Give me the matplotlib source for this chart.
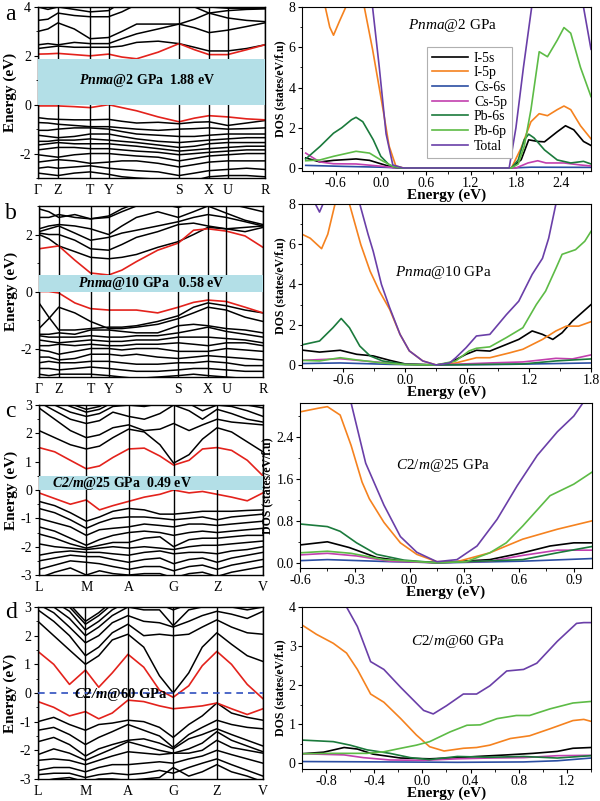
import matplotlib.pyplot as plt
import numpy as np
from matplotlib.ticker import MultipleLocator, AutoMinorLocator, FormatStrFormatter

plt.rcParams['font.family'] = ['Liberation Serif', 'DejaVu Serif']
plt.rcParams['mathtext.fontset'] = 'custom'
plt.rcParams['mathtext.it'] = 'Liberation Serif:italic'
plt.rcParams['mathtext.bf'] = 'Liberation Serif:italic:bold'
plt.rcParams['mathtext.rm'] = 'Liberation Serif'
plt.rcParams['axes.unicode_minus'] = False

# ---------------- band structure data ----------------
pnma_labels = ['Γ', 'Z', 'T', 'Y', 'S', 'X', 'U', 'R']
pnma_sym = [0, 0.088, 0.230, 0.311, 0.622, 0.754, 0.836, 1.0]
k_pnma = [0, 0.044, 0.088, 0.16, 0.23, 0.311, 0.37, 0.435, 0.53, 0.622, 0.69, 0.754, 0.836, 0.92, 1.0]

c2m_labels = ['L', 'M', 'A', 'G', 'Z', 'V']
c2m_sym = [0, 0.211, 0.40, 0.601, 0.795, 1.0]
k_c2m = [0, 0.07, 0.14, 0.211, 0.27, 0.33, 0.40, 0.47, 0.54, 0.601, 0.67, 0.73, 0.795, 0.86, 0.93, 1.0]

# panel a: Pnma @ 2 GPa
a_cbm = [2.07, 2.08, 2.1, 2.05, 2.0, 2.07, 1.95, 1.88, 2.15, 2.5, 2.25, 2.05, 2.05, 2.25, 2.45]
a_vbm = [-0.05, -0.05, -0.05, -0.08, -0.12, 0.0, -0.12, -0.25, -0.5, -0.7, -0.55, -0.45, -0.5, -0.58, -0.62]
a_bands = [
    [2.3, 2.35, 2.4, 2.35, 2.35, 2.35, 2.4, 2.55, 2.6, 2.5, 2.35, 2.2, 2.2, 2.3, 2.45],
    [2.45, 2.5, 2.45, 2.55, 2.5, 2.5, 2.7, 2.9, 3.1, 3.3, 3.15, 2.95, 3.05, 3.2, 3.35],
    [3.0, 3.1, 3.35, 3.1, 2.7, 2.75, 3.0, 3.3, 3.3, 3.3, 3.5, 3.75, 3.55, 3.45, 3.4],
    [3.45, 3.5, 3.75, 3.65, 3.6, 3.6, 3.8, 4.1, 4.3, 4.2, 4.0, 3.75, 3.85, 3.9, 3.92],
    [4.0, 3.9, 4.0, 3.9, 3.8, 3.85, 4.2, 4.5, 4.5, 4.4, 4.2, 4.0, 3.95, 3.95, 3.95],
    [-0.53, -0.58, -0.6, -0.62, -0.62, -0.6, -0.68, -0.75, -0.72, -0.78, -0.72, -0.7, -0.85, -0.75, -0.65],
    [-0.73, -0.75, -0.8, -0.85, -0.9, -0.9, -0.95, -1.0, -1.05, -1.0, -0.98, -0.95, -1.0, -0.98, -0.95],
    [-1.05, -1.05, -1.0, -0.95, -0.95, -1.0, -1.1, -1.2, -1.25, -1.3, -1.3, -1.25, -1.2, -1.2, -1.2],
    [-1.25, -1.3, -1.35, -1.3, -1.2, -1.2, -1.3, -1.4, -1.5, -1.55, -1.5, -1.45, -1.4, -1.35, -1.35],
    [-1.5, -1.5, -1.45, -1.45, -1.4, -1.45, -1.5, -1.55, -1.65, -1.75, -1.7, -1.6, -1.55, -1.55, -1.55],
    [-1.65, -1.6, -1.55, -1.6, -1.6, -1.6, -1.65, -1.7, -1.8, -1.9, -1.85, -1.8, -1.75, -1.7, -1.7],
    [-1.85, -1.8, -1.75, -1.75, -1.8, -1.8, -1.85, -1.9, -1.95, -2.05, -2.0, -1.95, -1.9, -1.85, -1.85],
    [-2.05, -2.1, -2.15, -2.05, -2.0, -2.0, -2.05, -2.1, -2.15, -2.3, -2.2, -2.1, -2.05, -2.0, -2.0],
    [-2.35, -2.3, -2.25, -2.3, -2.4, -2.35, -2.3, -2.3, -2.4, -2.55, -2.45, -2.35, -2.3, -2.3, -2.3],
    [-2.6, -2.55, -2.6, -2.55, -2.5, -2.6, -2.65, -2.7, -2.75, -2.9, -2.8, -2.7, -2.65, -2.6, -2.65],
    [-2.8, -2.85, -2.9, -2.8, -2.75, -2.85, -2.95, -3.0, -3.05, -3.2, -3.1, -2.95, -2.9, -2.9, -2.95],
]

# panel b: Pnma @ 10 GPa
b_cbm = [1.5, 1.55, 1.6, 1.1, 0.65, 0.58, 0.75, 1.05, 1.45, 1.7, 2.15, 2.2, 2.12, 1.95, 1.55]
b_vbm = [0.0, 0.0, -0.05, -0.4, -0.6, -0.65, -0.65, -0.65, -0.75, -0.55, -0.38, -0.3, -0.35, -0.55, -0.75]
b_bands = [
    [2.0, 1.85, 1.6, 1.4, 1.2, 1.15, 1.2, 1.3, 1.55, 1.75, 2.0, 2.25, 2.2, 2.25, 2.3],
    [2.05, 2.0, 2.0, 1.8, 1.5, 1.45, 1.65, 1.9, 2.1, 2.35, 2.4, 2.3, 2.2, 2.1, 2.25],
    [2.1, 2.2, 2.3, 2.05, 1.8, 1.9, 2.05, 2.15, 2.3, 2.45, 2.6, 2.7, 2.6, 2.45, 2.3],
    [2.2, 2.3, 2.35, 2.3, 2.2, 2.0, 2.3, 2.6, 2.8, 2.6, 2.8, 3.0, 2.75, 2.5, 2.35],
    [2.6, 2.6, 2.7, 2.6, 2.55, 2.6, 2.8, 3.0, 3.1, 2.95, 3.1, 3.2, 3.1, 2.95, 2.8],
    [2.9, 2.8, 2.6, 2.7, 2.55, 2.65, 2.9, 3.1, 3.2, 3.1, 3.2, 3.3, 3.2, 3.1, 3.0],
    [-0.4, -0.9, -1.35, -1.35, -1.3, -1.25, -1.25, -1.2, -1.05, -0.85, -0.55, -0.4, -0.5, -0.65, -0.75],
    [-1.3, -0.95, -0.55, -0.75, -1.05, -1.3, -1.3, -1.25, -1.15, -0.95, -0.75, -0.55, -0.65, -0.9, -1.05],
    [-1.5, -1.5, -1.45, -1.5, -1.35, -1.35, -1.4, -1.45, -1.45, -1.2, -1.15, -1.2, -1.3, -1.35, -1.45],
    [-1.55, -1.6, -1.6, -1.6, -1.55, -1.6, -1.6, -1.55, -1.55, -1.45, -1.35, -1.25, -1.4, -1.5, -1.6],
    [-1.7, -1.75, -1.8, -1.75, -1.7, -1.75, -1.75, -1.7, -1.7, -1.6, -1.6, -1.6, -1.65, -1.7, -1.8],
    [-1.9, -1.9, -1.85, -1.9, -1.85, -1.9, -1.9, -1.85, -1.85, -1.8, -1.85, -1.9, -1.8, -1.8, -1.9],
    [-2.05, -2.1, -2.2, -2.1, -2.0, -2.0, -2.05, -2.0, -2.0, -2.1, -2.1, -2.1, -2.0, -2.05, -2.1],
    [-2.3, -2.3, -2.4, -2.35, -2.2, -2.2, -2.25, -2.2, -2.3, -2.35, -2.3, -2.25, -2.3, -2.35, -2.4],
    [-2.5, -2.45, -2.5, -2.5, -2.45, -2.45, -2.5, -2.55, -2.55, -2.5, -2.5, -2.45, -2.5, -2.6, -2.6],
    [-2.7, -2.7, -2.75, -2.7, -2.65, -2.7, -2.75, -2.8, -2.8, -2.75, -2.7, -2.7, -2.75, -2.8, -2.8],
    [-2.9, -2.95, -2.9, -2.9, -2.9, -2.95, -3.0, -3.05, -3.0, -2.95, -2.9, -2.95, -3.0, -3.05, -3.05],
]

# panel c: C2/m @ 25 GPa
c_cbm = [1.5, 1.35, 1.05, 0.75, 0.85, 1.15, 1.45, 1.48, 1.2, 0.88, 1.05, 1.45, 1.5, 1.4, 1.05, 0.5]
c_vbm = [-0.1, -0.3, -0.5, -0.35, -0.7, -0.55, -0.4, -0.25, -0.15, 0.0, -0.1, -0.05, -0.15, -0.25, -0.38, -0.1]
c_bands = [
    [2.1, 1.85, 1.6, 1.45, 1.55, 1.85, 2.15, 2.05, 1.6, 0.95, 1.25, 1.8, 2.2, 2.05, 1.7, 1.35],
    [2.9, 2.5, 2.1, 1.85, 1.95, 2.2, 2.3, 2.1, 2.15, 2.35, 2.1, 2.3, 2.5, 2.4, 2.35, 2.3],
    [3.1, 2.8, 2.5, 2.35, 2.45, 2.75, 2.6, 2.5, 2.7, 3.0, 2.8, 2.5, 2.85, 2.7, 2.5, 2.4],
    [3.3, 3.0, 2.75, 2.6, 2.7, 2.95, 3.0, 2.95, 3.05, 3.1, 3.05, 2.8, 3.0, 2.95, 2.8, 2.6],
    [3.4, 3.2, 2.95, 2.75, 2.85, 3.1, 3.2, 3.1, 3.2, 3.3, 3.2, 3.0, 3.2, 3.1, 3.0, 2.9],
    [3.5, 3.3, 3.05, 2.85, 2.95, 3.2, 3.3, 3.2, 3.3, 3.4, 3.3, 3.1, 3.3, 3.2, 3.1, 3.1],
    [-0.4, -0.55, -0.8, -1.1, -0.95, -0.75, -0.65, -0.7, -0.85, -0.85, -0.8, -0.75, -0.75, -0.75, -0.72, -0.7],
    [-0.65, -0.8, -1.05, -1.35, -1.15, -1.0, -0.95, -0.95, -1.0, -1.05, -1.0, -0.95, -1.05, -0.95, -0.9, -0.85],
    [-1.0, -1.15, -1.3, -1.6, -1.4, -1.35, -1.3, -1.2, -1.25, -1.3, -1.2, -1.2, -1.25, -1.2, -1.15, -1.1],
    [-1.3, -1.45, -1.7, -1.95, -1.75, -1.6, -1.5, -1.45, -1.5, -1.6, -1.5, -1.45, -1.5, -1.45, -1.4, -1.35],
    [-1.55, -1.7, -1.9, -2.05, -1.95, -1.85, -1.85, -1.7, -1.65, -2.0, -1.75, -1.7, -1.7, -1.65, -1.6, -1.6],
    [-1.9, -2.0, -2.05, -2.1, -2.05, -2.0, -2.05, -2.0, -2.05, -2.1, -2.0, -1.95, -1.95, -1.9, -1.85, -1.8],
    [-2.3, -2.2, -2.15, -2.2, -2.2, -2.25, -2.3, -2.2, -2.15, -2.25, -2.2, -2.2, -2.25, -2.15, -2.1, -2.0],
    [-2.5, -2.4, -2.3, -2.35, -2.35, -2.45, -2.55, -2.45, -2.4, -2.6, -2.45, -2.4, -2.55, -2.4, -2.3, -2.2],
    [-2.8, -2.65, -2.5, -2.55, -2.6, -2.7, -2.8, -2.7, -2.7, -2.85, -2.7, -2.65, -2.8, -2.65, -2.55, -2.45],
    [-3.1, -2.9, -2.75, -3.0, -2.85, -2.95, -3.0, -2.95, -2.95, -3.1, -2.95, -2.9, -3.05, -2.9, -2.8, -2.7],
]

# panel d: C2/m @ 60 GPa
d_cbm = [1.45, 1.0, 0.3, 0.8, 0.2, 0.7, 1.35, 0.9, 0.1, -0.15, 0.25, 0.95, 1.45, 1.0, 0.3, -0.2]
d_vbm = [-0.3, -0.5, -0.8, -0.65, -0.9, -0.7, -0.25, -0.3, -0.45, -0.55, -0.5, -0.45, -0.35, -0.55, -0.75, -0.55]
d_bands = [
    [2.5, 2.0, 1.5, 1.0, 1.3, 1.85, 2.05, 1.6, 0.6, 0.0, 0.7, 1.6, 2.1, 1.7, 1.3, 1.1],
    [2.9, 2.5, 2.0, 1.3, 1.6, 2.1, 2.4, 2.0, 2.05, 2.0, 2.05, 2.3, 2.55, 2.3, 2.1, 2.05],
    [3.1, 2.8, 2.3, 1.75, 2.0, 2.45, 2.7, 2.5, 2.45, 2.3, 2.5, 2.7, 2.85, 2.75, 2.6, 2.85],
    [3.3, 3.0, 2.6, 2.0, 2.3, 2.7, 3.0, 2.9, 2.9, 2.35, 2.9, 3.0, 3.1, 3.0, 2.9, 3.0],
    [3.4, 3.2, 2.85, 2.2, 2.5, 2.9, 3.2, 3.1, 3.1, 2.9, 3.1, 3.2, 3.3, 3.2, 3.1, 3.2],
    [3.5, 3.3, 3.0, 2.4, 2.7, 3.1, 3.3, 3.2, 3.2, 3.2, 3.2, 3.3, 3.4, 3.3, 3.2, 3.3],
    [3.6, 3.4, 3.1, 2.5, 2.8, 3.2, 3.4, 3.3, 3.3, 3.3, 3.3, 3.4, 3.5, 3.4, 3.3, 3.4],
    [-1.0, -0.85, -1.1, -1.3, -1.1, -1.05, -0.95, -1.0, -1.2, -1.55, -1.1, -0.8, -0.35, -0.7, -0.85, -0.95],
    [-1.3, -1.2, -1.45, -1.8, -1.55, -1.35, -1.1, -1.3, -1.5, -1.9, -1.45, -1.2, -0.95, -1.1, -1.2, -1.25],
    [-1.7, -1.55, -1.8, -2.2, -1.95, -1.8, -1.65, -1.6, -1.75, -1.95, -1.6, -1.45, -1.25, -1.45, -1.65, -1.85],
    [-2.15, -1.95, -2.1, -2.35, -2.15, -1.95, -1.7, -1.85, -2.0, -2.1, -1.95, -1.75, -1.35, -1.65, -1.85, -2.05],
    [-2.35, -2.3, -2.35, -2.5, -2.35, -2.2, -2.05, -2.1, -2.15, -2.1, -2.1, -2.0, -1.65, -1.9, -2.0, -2.1],
    [-2.7, -2.6, -2.6, -2.75, -2.6, -2.5, -2.5, -2.45, -2.4, -2.45, -2.3, -2.2, -2.0, -2.15, -2.3, -2.45],
    [-2.85, -2.8, -2.8, -2.95, -2.85, -2.8, -2.85, -2.8, -2.7, -2.8, -2.6, -2.45, -2.3, -2.5, -2.7, -2.9],
    [-3.1, -3.0, -2.95, -3.1, -3.0, -3.0, -3.05, -3.0, -2.95, -2.6, -2.9, -2.75, -2.5, -2.75, -2.9, -3.1],
]

# ---------------- DOS data: (energy, states/eV/f.u) ----------------
orbitals = ['I-5s', 'I-5p', 'Cs-6s', 'Cs-5p', 'Pb-6s', 'Pb-6p', 'Total']
orb_colors = ['#000000', '#f5821f', '#2b4ea2', '#c23fae', '#1b7a3c', '#5dbb46', '#6a3fa8']

a_i5s = [(-1.0, 0.5), (-0.81, 0.3), (-0.63, 0.38), (-0.33, 0.45), (-0.15, 0.38), (0.0, 0.21), (0.16, 0.03), (0.3, 0.0),
         (1.74, 0.0), (1.87, 0.41), (1.97, 1.4), (2.09, 1.32), (2.18, 1.3), (2.35, 1.8), (2.46, 2.1), (2.57, 1.9), (2.7, 1.32), (2.8, 1.12)]
a_i5p = [(-1.0, 12), (-0.81, 9.5), (-0.74, 8.0), (-0.68, 7.0), (-0.63, 6.6), (-0.55, 7.3), (-0.43, 8.3), (-0.3, 9.5), (-0.22, 8.0),
         (-0.11, 5.9), (0.03, 2.9), (0.11, 1.1), (0.2, 0.1), (0.3, 0.0), (1.74, 0.0), (1.87, 1.0), (2.0, 2.3), (2.11, 2.7), (2.22, 2.6),
         (2.35, 2.9), (2.44, 3.08), (2.53, 2.9), (2.66, 2.1), (2.8, 1.45)]
a_cs6s = [(-1.0, 0.13), (-0.5, 0.08), (0.0, 0.04), (0.3, 0.0), (1.74, 0.0), (2.0, 0.04), (2.8, 0.03)]
a_cs5p = [(-1.0, 0.74), (-0.9, 0.5), (-0.81, 0.3), (-0.63, 0.21), (-0.33, 0.2), (0.03, 0.08), (0.16, 0.02), (0.3, 0.0),
          (1.8, 0.0), (1.96, 0.25), (2.09, 0.36), (2.2, 0.25), (2.44, 0.25), (2.66, 0.15), (2.8, 0.1)]
a_pb6s = [(-1.0, 0.45), (-0.81, 1.07), (-0.63, 1.73), (-0.52, 2.0), (-0.39, 2.4), (-0.33, 2.52), (-0.24, 2.3), (-0.1, 1.4),
          (0.0, 0.58), (0.11, 0.16), (0.2, 0.03), (0.3, 0.0), (1.74, 0.0), (1.83, 0.4), (1.91, 1.4), (1.97, 1.68), (2.04, 1.5),
          (2.18, 0.9), (2.35, 0.4), (2.53, 0.25), (2.7, 0.33), (2.8, 0.2)]
a_pb6p = [(-1.0, 0.36), (-0.81, 0.4), (-0.63, 0.58), (-0.33, 0.83), (-0.15, 0.74), (0.0, 0.4), (0.16, 0.08), (0.3, 0.0),
          (1.74, 0.0), (1.83, 0.2), (1.91, 1.07), (2.0, 2.9), (2.11, 5.78), (2.22, 5.53), (2.35, 6.35), (2.44, 6.98),
          (2.53, 6.7), (2.66, 5.0), (2.8, 3.55)]
a_total = [(-1.0, 14), (-0.3, 14), (-0.11, 8.0), (-0.02, 5.0), (0.07, 1.7), (0.16, 0.15), (0.3, 0.0), (1.71, 0.0), (1.8, 2.0),
           (1.9, 5.0), (2.01, 8.0), (2.2, 14), (2.6, 14), (2.7, 8.0), (2.8, 5.9)]

b_i5s = [(-1.0, 0.74), (-0.83, 0.64), (-0.63, 0.73), (-0.47, 0.53), (-0.31, 0.45), (-0.15, 0.23), (0.0, 0.05), (0.3, 0.0),
         (0.43, 0.1), (0.59, 0.53), (0.69, 0.73), (0.82, 0.69), (0.98, 1.02), (1.1, 1.27), (1.23, 1.69), (1.33, 1.52),
         (1.43, 1.27), (1.52, 1.6), (1.62, 2.18), (1.8, 3.0)]
b_i5p = [(-1.0, 6.5), (-0.92, 6.3), (-0.81, 5.78), (-0.75, 6.5), (-0.68, 8.0), (-0.6, 10), (-0.54, 8.0), (-0.43, 5.98),
         (-0.34, 4.66), (-0.25, 3.67), (-0.15, 2.76), (-0.05, 1.52), (0.04, 0.7), (0.17, 0.2), (0.3, 0.0), (0.49, 0.1),
         (0.69, 0.36), (0.82, 0.36), (1.01, 0.6), (1.14, 0.78), (1.33, 1.27), (1.46, 1.69), (1.56, 1.93), (1.68, 1.93), (1.8, 2.15)]
b_cs6s = [(-1.0, 0.07), (-0.63, 0.1), (-0.15, 0.03), (0.3, 0.0), (1.0, 0.03), (1.8, 0.1)]
b_cs5p = [(-1.0, 0.23), (-0.63, 0.31), (-0.31, 0.16), (0.0, 0.03), (0.3, 0.0), (0.82, 0.1), (1.14, 0.15), (1.46, 0.33),
          (1.62, 0.3), (1.8, 0.5)]
b_pb6s = [(-1.0, 1.0), (-0.83, 1.19), (-0.7, 1.85), (-0.62, 2.31), (-0.54, 1.85), (-0.44, 0.94), (-0.34, 0.45),
          (-0.22, 0.2), (0.0, 0.03), (0.3, 0.0), (1.14, 0.05), (1.46, 0.2), (1.8, 0.3)]
b_pb6p = [(-1.0, 0.23), (-0.83, 0.2), (-0.63, 0.36), (-0.47, 0.25), (-0.22, 0.1), (0.0, 0.02), (0.3, 0.0), (0.49, 0.2),
          (0.62, 0.7), (0.69, 0.83), (0.82, 0.9), (0.98, 1.36), (1.14, 1.85), (1.27, 3.0), (1.36, 3.67), (1.46, 4.8),
          (1.52, 5.5), (1.65, 5.73), (1.74, 6.15), (1.8, 6.64)]
b_total = [(-1.0, 10), (-0.92, 8.5), (-0.83, 7.6), (-0.78, 8.2), (-0.7, 10), (-0.5, 10), (-0.44, 8.0), (-0.36, 6.5),
           (-0.31, 5.65), (-0.23, 4.0), (-0.15, 2.84), (-0.05, 1.52), (0.04, 0.7), (0.17, 0.2), (0.3, 0.0), (0.43, 0.1),
           (0.49, 0.36), (0.59, 0.86), (0.69, 1.44), (0.82, 1.52), (0.98, 2.5), (1.1, 3.17), (1.23, 4.5), (1.33, 5.3),
           (1.39, 6.3), (1.46, 8.0), (1.6, 11)]

c_i5s = [(-0.6, 0.34), (-0.45, 0.4), (-0.33, 0.29), (-0.18, 0.1), (-0.03, 0.03), (0.15, 0.0), (0.44, 0.06), (0.62, 0.19),
         (0.77, 0.32), (0.9, 0.38), (1.0, 0.38)]
c_i5p = [(-0.6, 2.88), (-0.5, 2.95), (-0.45, 2.98), (-0.38, 2.82), (-0.32, 2.24), (-0.26, 1.54), (-0.22, 1.22),
         (-0.14, 0.77), (-0.05, 0.38), (0.04, 0.16), (0.15, 0.02), (0.26, 0.02), (0.44, 0.19), (0.62, 0.45), (0.81, 0.64), (1.0, 0.8)]
c_cs6s = [(-0.6, 0.04), (-0.45, 0.06), (-0.1, 0.02), (0.2, 0.0), (0.62, 0.03), (1.0, 0.08)]
c_cs5p = [(-0.6, 0.15), (-0.45, 0.18), (-0.29, 0.13), (-0.11, 0.03), (0.15, 0.0), (0.44, 0.03), (0.62, 0.14), (0.81, 0.24), (1.0, 0.24)]
c_pb6s = [(-0.6, 0.74), (-0.45, 0.69), (-0.38, 0.6), (-0.29, 0.38), (-0.18, 0.16), (-0.03, 0.05), (0.15, 0.0), (0.62, 0.06),
          (0.81, 0.19), (1.0, 0.31)]
c_pb6p = [(-0.6, 0.19), (-0.45, 0.22), (-0.32, 0.18), (-0.14, 0.06), (0.15, 0.0), (0.31, 0.02), (0.44, 0.19), (0.53, 0.38),
          (0.62, 0.7), (0.77, 1.28), (0.9, 1.5), (1.0, 1.73)]
c_total = [(-0.35, 3.5), (-0.32, 3.05), (-0.24, 1.9), (-0.14, 1.1), (-0.05, 0.5), (0.04, 0.2), (0.15, 0.02), (0.26, 0.06),
           (0.37, 0.32), (0.48, 0.83), (0.59, 1.47), (0.7, 2.05), (0.81, 2.5), (0.9, 2.8), (0.95, 3.05), (1.0, 3.3)]

d_i5s = [(-1.0, 0.24), (-0.82, 0.28), (-0.65, 0.4), (-0.54, 0.36), (-0.41, 0.23), (-0.18, 0.13), (0.06, 0.11), (0.29, 0.14),
         (0.45, 0.17), (0.7, 0.21), (0.92, 0.25), (1.12, 0.3), (1.25, 0.38), (1.4, 0.4)]
d_i5p = [(-1.0, 3.54), (-0.88, 3.3), (-0.74, 3.07), (-0.63, 2.82), (-0.54, 2.4), (-0.43, 1.77), (-0.32, 1.56), (-0.18, 1.14),
         (-0.05, 0.72), (0.06, 0.42), (0.18, 0.31), (0.34, 0.38), (0.45, 0.4), (0.56, 0.46), (0.73, 0.63), (0.89, 0.7),
         (1.06, 0.88), (1.25, 1.09), (1.34, 1.12), (1.4, 1.07)]
d_cs6s = [(-1.0, 0.04), (-0.27, 0.03), (0.29, 0.02), (0.84, 0.03), (1.12, 0.06), (1.4, 0.13)]
d_cs5p = [(-1.0, 0.24), (-0.65, 0.21), (-0.49, 0.14), (-0.27, 0.08), (0.01, 0.07), (0.29, 0.11), (0.56, 0.13), (0.84, 0.14),
          (1.12, 0.19), (1.4, 0.2)]
d_pb6s = [(-1.0, 0.59), (-0.74, 0.55), (-0.6, 0.46), (-0.46, 0.34), (-0.27, 0.25), (-0.1, 0.14), (0.06, 0.09), (0.29, 0.17),
          (0.56, 0.15), (0.84, 0.17), (1.12, 0.13), (1.4, 0.19)]
d_pb6p = [(-1.0, 0.24), (-0.74, 0.25), (-0.46, 0.25), (-0.32, 0.29), (-0.18, 0.38), (-0.05, 0.46), (0.06, 0.55), (0.23, 0.8),
          (0.37, 0.97), (0.48, 0.98), (0.62, 1.14), (0.78, 1.22), (0.89, 1.22), (1.06, 1.39), (1.25, 1.54), (1.4, 1.58)]
d_total = [(-0.7, 4.6), (-0.63, 4.0), (-0.54, 3.5), (-0.43, 2.6), (-0.32, 2.4), (-0.18, 1.94), (0.01, 1.35), (0.09, 1.26),
           (0.2, 1.47), (0.34, 1.77), (0.45, 1.77), (0.56, 1.98), (0.7, 2.36), (0.84, 2.4), (0.95, 2.56), (1.12, 3.12),
           (1.28, 3.58), (1.34, 3.6), (1.4, 3.6)]

RED = '#e3221c'
GAP = '#b3dfe7'

fig = plt.figure(figsize=(6.0, 8.01), dpi=100)


def band_panel(rect, k, bands, cbm, vbm, sym, labels, ylim, major, minor):
    ax = fig.add_axes(rect)
    for b in bands:
        ax.plot(k, b, color='k', lw=1.1)
    ax.plot(k, cbm, color=RED, lw=1.2)
    ax.plot(k, vbm, color=RED, lw=1.2)
    for p in sym:
        ax.axvline(p, color='k', lw=1.0)
    ax.set_xlim(0, 1)
    ax.set_ylim(*ylim)
    ax.set_xticks(sym)
    ax.set_xticklabels(labels, fontsize=10)
    ax.tick_params(axis='x', length=0, pad=4)
    ax.yaxis.set_major_locator(MultipleLocator(major))
    ax.yaxis.set_minor_locator(MultipleLocator(minor))
    ax.tick_params(axis='y', which='major', length=3, labelsize=10, direction='out', pad=2)
    ax.tick_params(axis='y', which='minor', length=1.8, direction='out')
    ax.set_ylabel('Energy (eV)', fontsize=11, fontweight='bold', labelpad=2)
    for s in ax.spines.values():
        s.set_linewidth(1.0)
    return ax


def dos_panel(rect, curves, xlim, ylim, xstep, ystep, yfmt, title, tx, ty):
    ax = fig.add_axes(rect)
    for name, col, data in zip(orbitals, orb_colors, curves):
        e = [p[0] for p in data]
        v = [p[1] for p in data]
        ax.plot(e, v, color=col, lw=1.2, label=name)
    ax.set_xlim(*xlim)
    ax.set_ylim(*ylim)
    ax.xaxis.set_major_locator(MultipleLocator(xstep))
    ax.xaxis.set_minor_locator(AutoMinorLocator(2))
    ax.yaxis.set_major_locator(MultipleLocator(ystep))
    ax.yaxis.set_minor_locator(AutoMinorLocator(2))
    ax.xaxis.set_major_formatter(FormatStrFormatter('%.1f'))
    ax.yaxis.set_major_formatter(FormatStrFormatter(yfmt))
    ax.tick_params(which='major', length=3, labelsize=10, direction='out', pad=1.5)
    ax.tick_params(which='minor', length=1.8, direction='out')
    ax.set_xlabel('Energy (eV)', fontsize=11, fontweight='bold', labelpad=-1)
    ax.set_ylabel('DOS (states/eV/f.u)', fontsize=8.5, fontweight='bold', labelpad=2)
    ax.text(tx, ty, title, transform=ax.transAxes, fontsize=11, ha='center', va='center')
    return ax


# ---- band panels ----
axa = band_panel([0.0633, 0.7778, 0.378, 0.2135], k_pnma, a_bands, a_cbm, a_vbm, pnma_sym, pnma_labels, (-3, 4), 2, 1)
axa.axhspan(0, 1.88, color=GAP, zorder=3, lw=0)
axa.text(0.48, 1.0, r'$\mathbf{Pnma}$@2 GPa  1.88 eV', fontsize=10, fontweight='bold', ha='center', va='center', zorder=4)

axb = band_panel([0.065, 0.5293, 0.3733, 0.2135], k_pnma, b_bands, b_cbm, b_vbm, pnma_sym, pnma_labels, (-3, 3), 2, 1)
axb.axhspan(0, 0.58, color=GAP, zorder=3, lw=0)
axb.text(0.5, 0.29, r'$\mathbf{Pnma}$@10 GPa   0.58 eV', fontsize=10, fontweight='bold', ha='center', va='center', zorder=4)

axc = band_panel([0.065, 0.2821, 0.3733, 0.2122], k_c2m, c_bands, c_cbm, c_vbm, c2m_sym, c2m_labels, (-3, 3), 1, 0.5)
axc.axhspan(0, 0.49, color=GAP, zorder=3, lw=0)
axc.text(0.37, 0.245, r'$\mathbf{C2/m}$@25 GPa  0.49 eV', fontsize=10, fontweight='bold', ha='center', va='center', zorder=4)

axd = band_panel([0.0633, 0.0275, 0.375, 0.2147], k_c2m, d_bands, d_cbm, d_vbm, c2m_sym, c2m_labels, (-3, 3), 1, 0.5)
axd.axhline(0, color='#2f4fbf', lw=1.2, ls=(0, (4, 3)), zorder=3)
axd.text(0.37, -0.05, r'$\mathbf{C2/m}$@60 GPa', fontsize=10.5, fontweight='bold', ha='center', va='center', zorder=4)

# ---- DOS panels ----
axA = dos_panel([0.5033, 0.7865, 0.4817, 0.2047], [a_i5s, a_i5p, a_cs6s, a_cs5p, a_pb6s, a_pb6p, a_total],
                (-1.05, 2.8), (-0.15, 8), 0.6, 2, '%d', r'$Pnma$@2 GPa', 0.52, 0.89)
leg = axA.legend(loc='upper left', bbox_to_anchor=(0.41, 0.80), fontsize=10, handlelength=2.6,
                 labelspacing=0.12, borderpad=0.35, handletextpad=0.4, fancybox=False, framealpha=1)
leg.get_frame().set_edgecolor('#b0b0b0')
leg.get_frame().set_linewidth(0.8)

dos_panel([0.5033, 0.5406, 0.4817, 0.2047], [b_i5s, b_i5p, b_cs6s, b_cs5p, b_pb6s, b_pb6p, b_total],
          (-1.0, 1.8), (-0.15, 8), 0.6, 2, '%d', r'$Pnma$@10 GPa', 0.49, 0.585)
dos_panel([0.5, 0.2909, 0.4867, 0.206], [c_i5s, c_i5p, c_cs6s, c_cs5p, c_pb6s, c_pb6p, c_total],
          (-0.6, 1.0), (-0.1, 3.05), 0.3, 0.8, '%.1f', r'$\mathit{C2/m}$@25 GPa', 0.49, 0.62)
dos_panel([0.5033, 0.04, 0.4817, 0.2022], [d_i5s, d_i5p, d_cs6s, d_cs5p, d_pb6s, d_pb6p, d_total],
          (-1.0, 1.4), (-0.15, 4), 0.4, 1, '%d', r'$\mathit{C2/m}$@60 GPa', 0.54, 0.79)

# panel letters
for lab, yy in zip(['a', 'b', 'c', 'd'], [0.995, 0.747, 0.499, 0.249]):
    fig.text(0.008, yy, lab, fontsize=17, ha='left', va='top')

fig.savefig('out.png', dpi=100)
